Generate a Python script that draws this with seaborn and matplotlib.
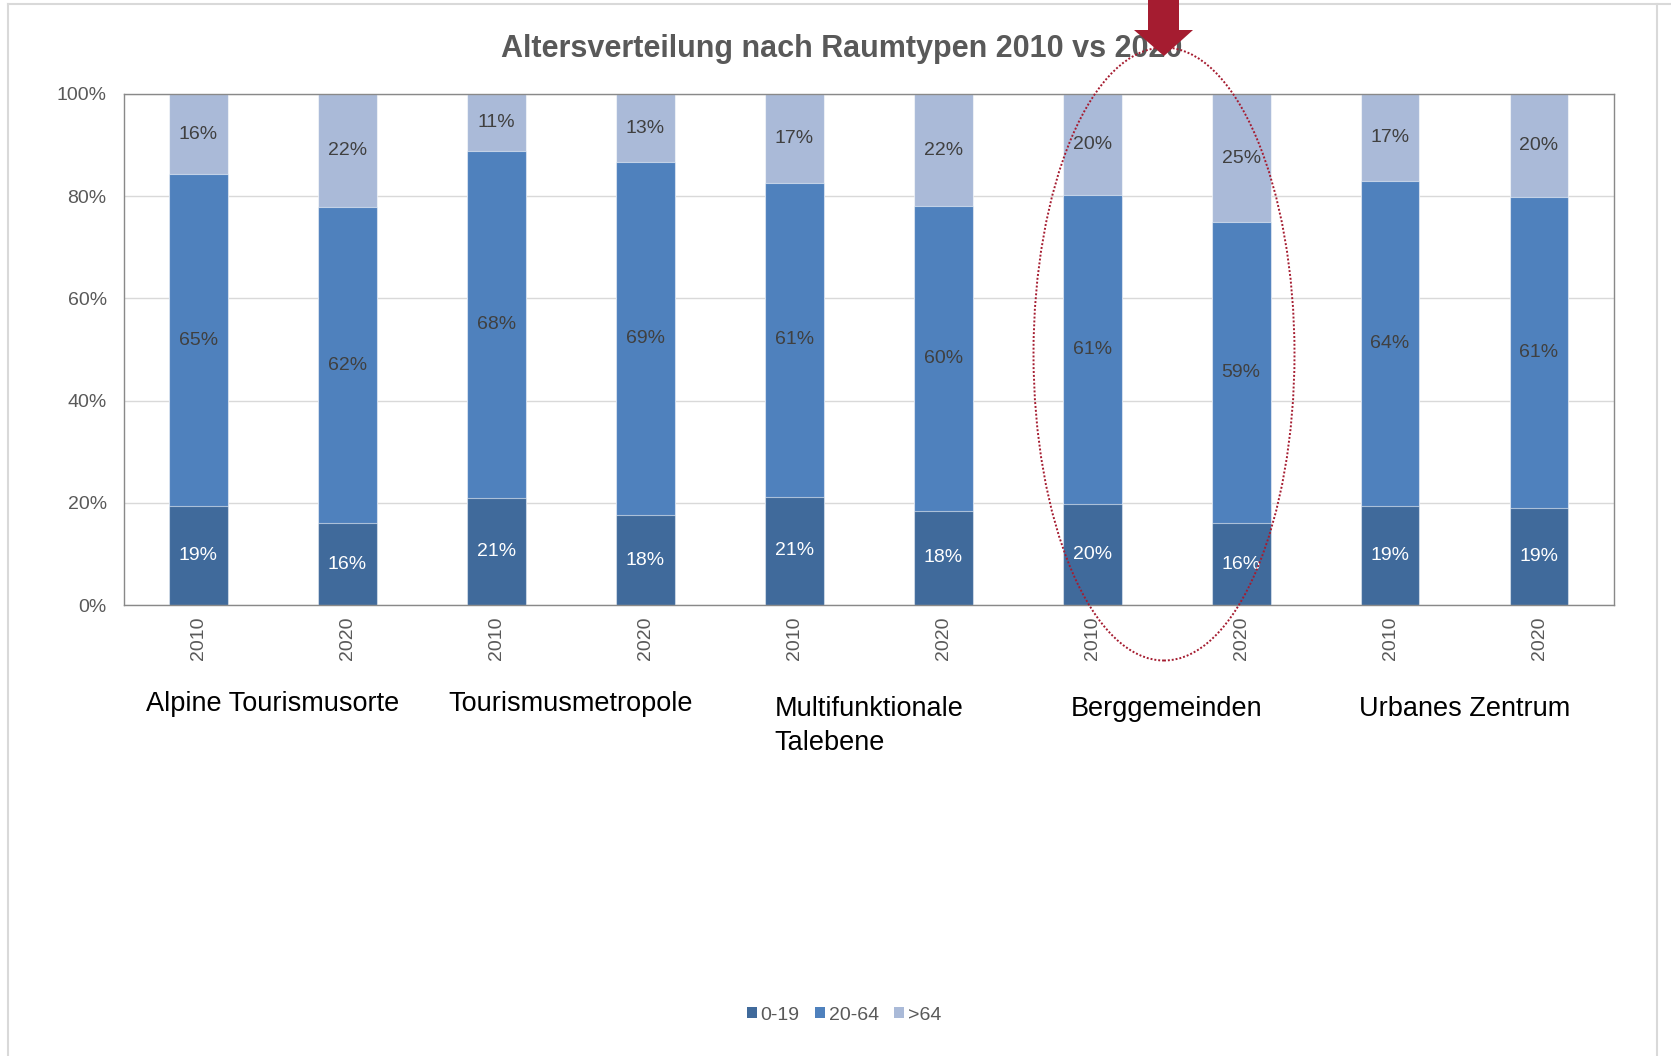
import numpy as np
import pandas as pd
import matplotlib
matplotlib.use("Agg")
import matplotlib.pyplot as plt
import seaborn as sns
from matplotlib.patches import Ellipse, Polygon, Patch
from matplotlib.lines import Line2D
from matplotlib.transforms import blended_transform_factory

# ---------------- data ----------------
regions = ["Alpine Tourismusorte", "Tourismusmetropole", "Multifunktionale\nTalebene",
           "Berggemeinden", "Urbanes Zentrum"]
years = ["2010", "2020"]
age_groups = ["0-19", "20-64", ">64"]
share_0_19 = [19.3, 16.0, 21.0, 17.6, 21.2, 18.4, 19.7, 16.0, 19.3, 18.9]
share_20_64 = [65.0, 61.8, 67.9, 69.0, 61.4, 59.6, 60.6, 58.9, 63.7, 61.0]
share_over_64 = [15.7, 22.2, 11.1, 13.4, 17.4, 22.0, 19.7, 25.1, 17.0, 20.1]
y_ticks = [0, 20, 40, 60, 80, 100]
title = "Altersverteilung nach Raumtypen 2010 vs 2020"

# ---------------- style ----------------
plt.rcParams["font.family"] = ["Liberation Sans", "DejaVu Sans"]
c_young, c_mid, c_old = "#406A9B", "#4F81BD", "#AABAD8"
grey_txt = "#595959"
red = "#A51C30"

W, H = 1671, 1056
fig = plt.figure(figsize=(W / 100, H / 100), dpi=100)
ax = fig.add_axes([124 / W, 1 - 605 / H, (1613.5 - 124) / W, (605 - 94) / H])

keys = [f"{r}|{y}" for r in regions for y in years]
df = pd.DataFrame({"key": keys, "young": share_0_19, "mid": share_20_64, "old": share_over_64})
df["top_mid"] = df["young"] + df["mid"]
df["top_all"] = df["top_mid"] + df["old"]

for col, color in [("top_all", c_old), ("top_mid", c_mid), ("young", c_young)]:
    sns.barplot(data=df, x="key", y=col, order=keys, color=color, saturation=1,
                width=0.395, errorbar=None, ax=ax, edgecolor=(1, 1, 1, 0.55),
                linewidth=0.8, zorder=2)

# data labels
for i, row in df.iterrows():
    ax.text(i, row["young"] / 2, f"{row['young']:.0f}%", ha="center", va="center",
            fontsize=14, color="white", zorder=4)
    ax.text(i, row["young"] + row["mid"] / 2, f"{row['mid']:.0f}%", ha="center",
            va="center", fontsize=14, color="#404040", zorder=4)
    ax.text(i, row["top_mid"] + row["old"] / 2, f"{row['old']:.0f}%", ha="center",
            va="center", fontsize=14, color="#404040", zorder=4)

ax.set_xlim(-0.5, len(keys) - 0.5)
ax.set_ylim(0, 100)
ax.set_yticks(y_ticks)
ax.set_yticklabels([f"{t}%" for t in y_ticks])
ax.set_xticks(range(len(keys)))
ax.set_xticklabels([y for r in regions for y in years], rotation=90)
ax.set_xlabel("")
ax.set_ylabel("")
ax.tick_params(axis="y", length=0, pad=12.5, labelsize=14, labelcolor=grey_txt)
ax.tick_params(axis="x", length=0, pad=8, labelsize=14, labelcolor=grey_txt)
ax.set_axisbelow(True)
ax.yaxis.grid(True, color="#D9D9D9", lw=1)
ax.xaxis.grid(False)
for s in ax.spines.values():
    s.set_color("#898989")
    s.set_linewidth(1.0)

# group labels
trans = blended_transform_factory(ax.transData, fig.transFigure)
label_tops = [691, 691, 696, 696, 696]
for k, r in enumerate(regions):
    ax.text(2 * k + 0.5, 1 - label_tops[k] / H, r, transform=trans, ha="center", va="top",
            multialignment="left", fontsize=19.5, color="black", linespacing=1.38)

# title
fig.text(842 / W, 1 - 49 / H, title, ha="center", va="center", fontsize=22,
         fontweight="bold", color=grey_txt, zorder=3)

# legend
handles = [Patch(facecolor=c, edgecolor="none") for c in (c_young, c_mid, c_old)]
fig.legend(handles, age_groups, loc="center", bbox_to_anchor=(844 / W, 1 - 1015 / H),
           ncol=3, frameon=False, fontsize=14, labelcolor=grey_txt, handlelength=0.5,
           handleheight=0.5, handletextpad=0.2, columnspacing=0.8)

# outer frame
for xs, ys in [((8, 8), (4, H + 5)), ((1657, 1657), (4, H + 5)), ((8, W + 5), (4, 4))]:
    fig.add_artist(Line2D([x / W for x in xs], [1 - y / H for y in ys],
                          transform=fig.transFigure, color="#D9D9D9", lw=1.5, zorder=1))

# highlight ellipse
fig.add_artist(Ellipse((1164 / W, 1 - 354 / H), 261 / W, 613 / H, transform=fig.transFigure,
                       fill=False, edgecolor=red, linestyle=(0, (1, 1)), lw=1.4, zorder=5))

# arrow
pts = [(1148, -5), (1179, -5), (1179, 30), (1193, 30), (1164, 56), (1134, 30), (1148, 30)]
fig.add_artist(Polygon([(x / W, 1 - y / H) for x, y in pts], closed=True,
                       transform=fig.transFigure, facecolor=red, edgecolor="none", zorder=10))

fig.savefig("out.png", dpi=100)
